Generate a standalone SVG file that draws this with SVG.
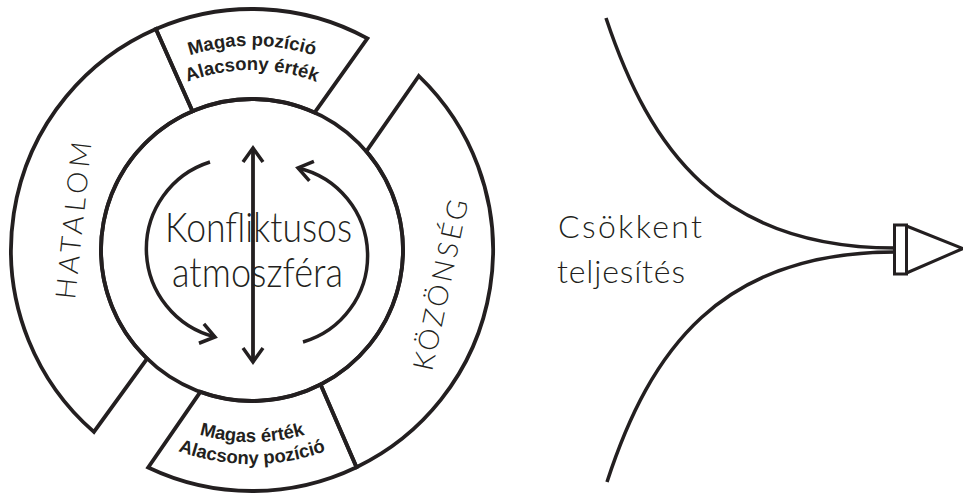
<svg xmlns="http://www.w3.org/2000/svg" width="963" height="495" viewBox="0 0 963 495">
<style>
.ln{fill:none;stroke:#231f20;stroke-width:3.8;stroke-linejoin:miter}
.thin{fill:none;stroke:#231f20;stroke-width:3.5}
.bold{font-family:"Liberation Sans",Arial,sans-serif;font-weight:bold;font-size:18.5px;fill:#231f20}
.light{font-family:Lato,"Open Sans","DejaVu Sans",sans-serif;font-weight:300;fill:#231f20}
</style>
<defs>
<marker id="ah" markerUnits="userSpaceOnUse" markerWidth="40" markerHeight="40" viewBox="-20 -20 40 40" refX="0" refY="0" orient="auto-start-reverse">
<path d="M-14,-10 L0,0 L-14,10" fill="none" stroke="#231f20" stroke-width="3.5"/>
</marker>
<path id="t1" d="M75.2,148.0 A204,204 0 0 1 428.8,148.0"/>
<path id="t2" d="M96.1,160.0 A180,180 0 0 1 407.9,160.0"/>
<path id="b1" d="M85.7,346.0 A192,192 0 0 0 418.3,346.0"/>
<path id="b2" d="M66.6,357.0 A214,214 0 0 0 437.4,357.0"/>
</defs>
<rect width="963" height="495" fill="#fff"/>

<g id="inner-circle">
<circle class="ln" cx="252" cy="250" r="151"/>
</g>

<g id="hatalom">
<path class="ln" d="M93.9,431.9 A241,241 0 0 1 155.9,29.0 L192.5,111.2 A151,151 0 0 0 147.1,358.6 Z"/>
<text class="light" font-size="28" textLength="158" lengthAdjust="spacing" transform="translate(75,300) rotate(-84)">HATALOM</text>
</g>

<g id="top-box">
<path class="ln" d="M155.9,29.0 A241,241 0 0 1 367.4,38.4 L314.6,112.6 A151,151 0 0 0 192.5,111.2 Z"/>
<text class="bold"><textPath href="#t1" startOffset="50%" text-anchor="middle">Magas pozíció</textPath></text>
<text class="bold"><textPath href="#t2" startOffset="50%" text-anchor="middle">Alacsony érték</textPath></text>
</g>

<g id="kozonseg">
<path class="ln" d="M418.8,76.0 L366.3,151.3 A151,151 0 0 1 320.6,384.5 L356.5,467.2 A241,241 0 0 0 418.8,76.0 Z"/>
<text class="light" font-size="28" textLength="174" lengthAdjust="spacing" transform="translate(432,372) rotate(-78)">KÖZÖNSÉG</text>
</g>

<g id="bottom-box">
<path class="ln" d="M200.4,391.9 A151,151 0 0 0 320.6,384.5 L356.5,467.2 A241,241 0 0 1 148.2,467.5 Z"/>
<text class="bold"><textPath href="#b1" startOffset="50%" text-anchor="middle">Magas érték</textPath></text>
<text class="bold"><textPath href="#b2" startOffset="50%" text-anchor="middle">Alacsony pozíció</textPath></text>
</g>

<g id="center">
<text class="light" font-size="41" x="165" y="242" textLength="187" lengthAdjust="spacingAndGlyphs">Konfliktusos</text>
<text class="light" font-size="41" x="172" y="287" textLength="171" lengthAdjust="spacingAndGlyphs">atmoszféra</text>
</g>

<g id="connectors">
<path class="thin" d="M210,162 A91,91 0 0 0 215,337" marker-end="url(#ah)"/>
<path class="thin" d="M303,342 A90,90 0 0 0 298,168" marker-end="url(#ah)"/>
<line class="ln" x1="253" y1="148" x2="253" y2="362" marker-start="url(#ah)" marker-end="url(#ah)"/>
<path class="thin" d="M606,18 C650,150 720,248 895,248"/>
<path class="thin" d="M607,482 C650,350 720,252 895,252"/>
</g>

<g id="output-label">
<text class="light" font-size="32" x="558" y="238" textLength="144" lengthAdjust="spacing">Csökkent</text>
<text class="light" font-size="32" x="557" y="283" textLength="128" lengthAdjust="spacing">teljesítés</text>
</g>

<g id="output-arrow">
<rect x="894.5" y="225" width="12" height="49" fill="#fff" stroke="#231f20" stroke-width="3"/>
<path d="M906.5,226 L963,248.5 L906.5,273" fill="none" stroke="#231f20" stroke-width="3"/>
</g>
</svg>
